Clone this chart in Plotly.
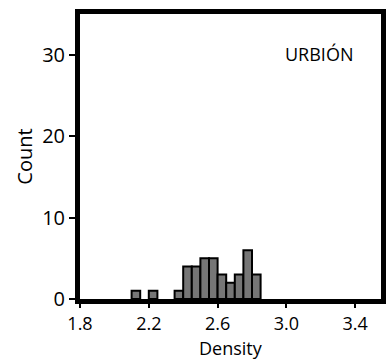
import plotly.graph_objects as go

bin_left = [2.10, 2.20, 2.35, 2.40, 2.45, 2.50, 2.55, 2.60, 2.65, 2.70, 2.75, 2.80]
counts = [1, 1, 1, 4, 4, 5, 5, 3, 2, 3, 6, 3]
bin_width = 0.05
x_ticks = [1.8, 2.2, 2.6, 3.0, 3.4]
y_ticks = [0, 10, 20, 30]

centers = [b + bin_width / 2 for b in bin_left]

fig = go.Figure(go.Bar(
    x=centers, y=counts, width=[bin_width] * len(counts),
    marker=dict(color="#767676", line=dict(color="black", width=2)),
))

font = "Open Sans"
fig.update_layout(
    width=387, height=361,
    margin=dict(l=80, r=1, t=14, b=62),
    plot_bgcolor="white", paper_bgcolor="white",
    showlegend=False,
    font=dict(family=font, color="black", size=20),
    annotations=[
        dict(text="URBIÓN", x=0.915, y=0.858, xref="paper", yref="paper",
             xanchor="right", yanchor="middle", showarrow=False,
             font=dict(size=18, family=font)),
        dict(text="Density", x=0.5, y=-62 / 285, xref="paper", yref="paper",
             xanchor="center", yanchor="bottom", showarrow=False, borderpad=0,
             font=dict(size=18, family=font)),
    ],
)
fig.update_xaxes(
    range=[1.8, 3.55], tickvals=x_ticks, ticktext=[f"{v:.1f}" for v in x_ticks],
    ticks="outside", ticklen=4, tickwidth=2, tickcolor="black",
    tickfont=dict(size=18),
    showline=True, linewidth=5, linecolor="black", mirror=True,
    showgrid=False, zeroline=False,
)
fig.update_yaxes(
    range=[0, 35], tickvals=y_ticks,
    ticks="outside", ticklen=6, tickwidth=2, tickcolor="black",
    tickfont=dict(size=20),
    showline=True, linewidth=5, linecolor="black", mirror=True,
    showgrid=False, zeroline=False,
    title=dict(text="Count", standoff=6, font=dict(size=20)),
)
fig.write_html("out.html")
